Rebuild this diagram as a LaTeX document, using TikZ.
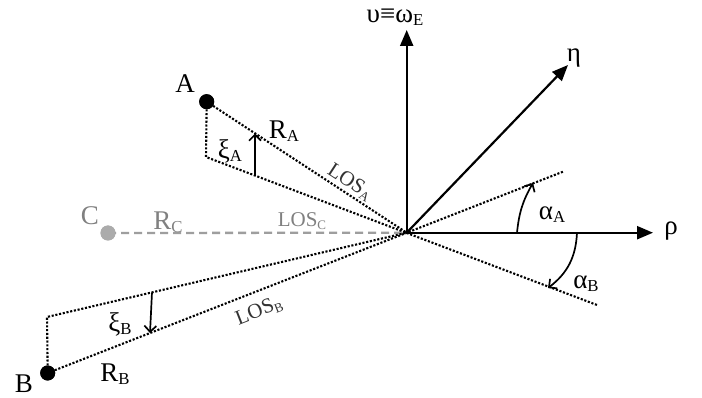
\documentclass[tikz,border=0pt]{standalone}
\usepackage{fontspec}
\setmainfont{Liberation Serif}
\usepackage{graphicx}
\usetikzlibrary{arrows.meta}
\newcommand\lsub[1]{\raisebox{-0.12em}{\scalebox{0.62}{#1}}}
\begin{document}
\begin{tikzpicture}[x=1pt,y=-1pt,
  axis/.style={line width=2.2pt,-{Triangle[length=16pt,width=13pt]}},
  dotline/.style={line width=2.1pt,dash pattern=on 2.1pt off 1.7pt},
  gdash/.style={line width=2.3pt,draw=black!38,dash pattern=on 8pt off 5pt},
  turn/.style={line width=1.7pt,-{Straight Barb[length=6pt,width=12pt]}},
  lbl/.style={font=\fontsize{27}{29}\selectfont, inner sep=0pt},
  los/.style={font=\fontsize{21}{23}\selectfont, inner sep=0pt},
  dot/.style={circle,fill=black,minimum size=15pt,inner sep=0pt},
]
\useasboundingbox (0,0) rectangle (702,398);
\fill[white] (0,0) rectangle (702,398);
% points
\coordinate (O) at (406.7,232.7);
\coordinate (Af) at (206,157);
\coordinate (Bf) at (47,317);
\coordinate (Vt) at (406.7,30);
\coordinate (Ht) at (653,232.7);
\coordinate (Et) at (568,65);
\coordinate (LA) at (563,171.7);
\coordinate (LB) at (597,305);
\node[dot] (A) at (206.7,101.7) {};
\node[dot] (B) at (47.7,373) {};
\node[dot,fill=black!33] (C) at (108,233) {};
% dashed and dotted lines
\draw[gdash] (C.center) -- (O);
\draw[dotline] (A.center) -- (Af) -- (LB);
\draw[dotline] (A.center) -- (O);
\draw[dotline] (B.center) -- (Bf) -- (O);
\draw[dotline] (B.center) -- (LA);
% redraw dots on top
\node[dot] at (A) {};
\node[dot] at (B) {};
\node[dot,fill=black!33] at (C) {};
% axes
\draw[axis] (O) -- (Vt);
\draw[axis] (O) -- (Ht);
\draw[axis] (O) -- (Et);
% angle arrows
\coordinate (xa1) at (255,175.5);
\coordinate (xa2) at (255,133.5);
\coordinate (xb1) at (152,292.4);
\coordinate (xb2) at (150,333);
\draw[turn] (xa1) -- (xa2);
\draw[turn] (xb1) -- (xb2);
\coordinate (aa1) at (517,232.7);
\coordinate (aa2) at (533,183);
\coordinate (ab1) at (577,232.7);
\coordinate (ab2) at (548,288);
\draw[turn] (aa1) to[bend left=12] (aa2);
\draw[turn] (ab1) to[bend left=25] (ab2);
% labels
\node[lbl] (tA) at (185,84) {A};
\node[lbl] (tB) at (24,384) {B};
\node[lbl,text=black!50] (tC) at (90,216) {C};
\node[lbl] (tRA) at (284,131) {R\lsub{A}};
\node[lbl] (tRB) at (115,374) {R\lsub{B}};
\node[lbl,text=black!50] (tRC) at (168,222) {R\lsub{C}};
\node[lbl] (txA) at (230,151) {ξ\lsub{A}};
\node[lbl] (txB) at (120,324) {ξ\lsub{B}};
\node[los,text=black!80,rotate=-33.2] (tLA) at (350,182) {LOS\lsub{A}};
\node[los,text=black!80,rotate=21.3] (tLB) at (259,311) {LOS\lsub{B}};
\node[los,text=black!50] (tLC) at (302,221) {LOS\lsub{C}};
\node[lbl] (taA) at (552,215) {α\lsub{A}};
\node[lbl] (taB) at (586,284) {α\lsub{B}};
\node[lbl] (tV) at (395,17) {υ≡ω\lsub{E}};
\node[lbl] (tE) at (574,58) {η};
\node[lbl] (tH) at (671,231) {ρ};
\end{tikzpicture}
\end{document}
